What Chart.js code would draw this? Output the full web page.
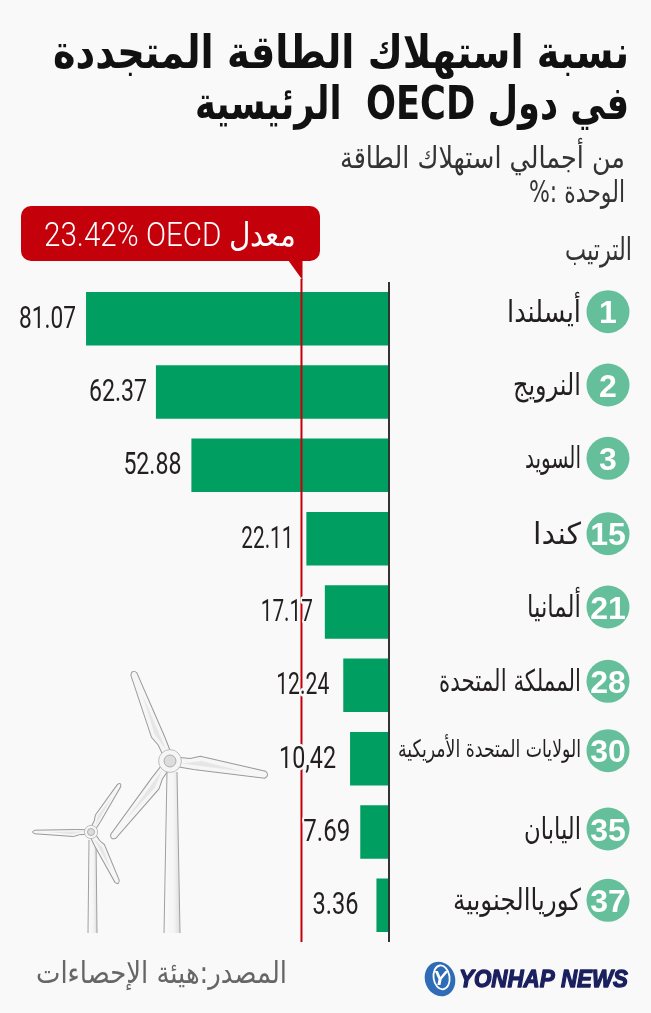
<!DOCTYPE html>
<html lang="ar"><head><meta charset="utf-8">
<style>html,body{margin:0;padding:0;background:#f9f9f9}canvas{display:block}</style>
<script src="https://cdn.jsdelivr.net/npm/chart.js@4"></script></head>
<body><canvas id="c" width="651" height="1013"></canvas>
<script>
const categories=["أيسلندا","النرويج","السويد","كندا","ألمانيا","المملكة المتحدة","الولايات المتحدة الأمريكية","اليابان","كورياالجنوبية"];
const values=[81.07,62.37,52.88,22.11,17.17,12.24,10.42,7.69,3.36];
const valueLabels=["81.07","62.37","52.88","22.11","17.17","12.24","10,42","7.69","3.36"];
const ranks=["1","2","3","15","21","28","30","35","37"];
const oecdAverage=23.42;
const titleLines=["نسبة استهلاك الطاقة المتجددة","في دول OECD  الرئيسية"];
const subtitleLines=["من أجمالي استهلاك الطاقة","الوحدة :%"];
const rankHeader="الترتيب";
const calloutText="23.42% OECD معدل";
const sourceText="المصدر:هيئة الإحصاءات";
const logoText="YONHAP NEWS";

const BG="#f9f9f9",GREEN="#009e60",RED="#c4000b",CIRCLE="#66bf9b",INK="#231f20";
const AR="'DejaVu Sans','Noto Sans',sans-serif";
const labelWidths=[74,68,56,48,54,142,183,57,128];
const rankDy=[-7,-7,-7,-5,-5,-4,-8,-3,-5];
const valueWidths=[57,58,58,52,52,53,57,47,46];
const valueGaps=[10,9,10,13,12,14,14,10,18];

function fit(ctx,text,right,base,font,width,color,dir,halo,bold){
  ctx.save();ctx.font=font;ctx.direction=dir||"rtl";ctx.textAlign=(dir==="ltr")?"left":"right";ctx.textBaseline="alphabetic";
  const w=ctx.measureText(text).width,sx=width/w;
  ctx.translate(dir==="ltr"?right-width:right,base);ctx.scale(sx,1);
  if(halo){ctx.strokeStyle=BG;ctx.lineWidth=5;ctx.lineJoin="round";ctx.strokeText(text,0,0);}
  if(bold){ctx.strokeStyle=color;ctx.lineWidth=bold;ctx.lineJoin="round";ctx.strokeText(text,0,0);}
  ctx.fillStyle=color;ctx.fillText(text,0,0);ctx.restore();
}
function blade(ctx,hx,hy,tx,ty,wd){
  const a=Math.atan2(ty-hy,tx-hx),L=Math.hypot(tx-hx,ty-hy);
  ctx.save();ctx.translate(hx,hy);ctx.rotate(a);
  ctx.beginPath();ctx.moveTo(4,-wd*.5);ctx.lineTo(L*.2,-wd*.6);ctx.lineTo(L*.3,-wd);ctx.lineTo(L-2,-wd*.4);
  ctx.quadraticCurveTo(L+3,0,L-2,wd*.4);ctx.lineTo(L*.25,wd*.55);ctx.lineTo(4,wd*.5);ctx.closePath();
  ctx.fillStyle="#f6f6f6";ctx.fill();ctx.strokeStyle="#9a9a9a";ctx.lineWidth=1;ctx.stroke();
  ctx.beginPath();ctx.moveTo(L*.12,wd*.1);ctx.lineTo(L*.32,-wd*.5);ctx.lineTo(L*.75,0);ctx.closePath();ctx.fillStyle="#e6e6e6";ctx.fill();
  ctx.restore();
}
function tower(ctx,x1,x2,y1,x3,x4,y2){
  const g=ctx.createLinearGradient(x3,0,x4,0);g.addColorStop(0,"#fafafa");g.addColorStop(.6,"#f4f4f4");g.addColorStop(1,"#dedede");
  ctx.beginPath();ctx.moveTo(x1,y1);ctx.lineTo(x2,y1);ctx.lineTo(x4,y2);ctx.lineTo(x3,y2);ctx.closePath();ctx.fillStyle=g;ctx.fill();
  ctx.beginPath();ctx.moveTo(x1,y1);ctx.lineTo(x3,y2);ctx.moveTo(x2,y1);ctx.lineTo(x4,y2);ctx.strokeStyle="#a0a0a0";ctx.lineWidth=1;ctx.stroke();
}
function hub(ctx,x,y,r){
  ctx.beginPath();ctx.arc(x,y,r*1.9,0,Math.PI*2);ctx.fillStyle="#f5f5f5";ctx.fill();ctx.strokeStyle="#b0b0b0";ctx.lineWidth=.8;ctx.stroke();
  ctx.beginPath();ctx.arc(x,y,r,0,Math.PI*2);ctx.fillStyle="#dcdcdc";ctx.fill();ctx.strokeStyle="#a0a0a0";ctx.stroke();
}
function drawLogo(ctx){
  const cx=440,cy=979;
  ctx.save();ctx.translate(cx,cy);ctx.rotate(-.35);
  ctx.beginPath();ctx.ellipse(0,0,15,17.5,0,0,Math.PI*2);ctx.fillStyle="#2f6cb8";ctx.fill();
  ctx.beginPath();ctx.ellipse(2,-1,8,12,.2,0,Math.PI*2);ctx.strokeStyle="#ffffff";ctx.lineWidth=1.8;ctx.stroke();
  ctx.restore();
  ctx.save();ctx.font="italic bold 21px 'Liberation Sans'";ctx.fillStyle="#fff";ctx.textAlign="center";ctx.textBaseline="middle";ctx.fillText("Y",cx,cy);ctx.restore();
  fit(ctx,logoText,628,987,"italic bold 24px 'Liberation Sans'",169,"#1a1f5e","ltr",false,1.3);
}

const overlay={id:"overlay",
  beforeDatasetsDraw(ch){
    const c=ch.ctx;c.save();
    tower(c,89,96,840,88,97,933);
    blade(c,91,832,120,784,5);blade(c,91,832,33,832,4.5);blade(c,91,832,118,883,6);hub(c,91,832,3.5);
    tower(c,167,177,772,164,180,933);
    blade(c,170,761,133,672,8);blade(c,170,761,267,775,9);blade(c,170,761,112,838,8);hub(c,170,761,6);
    c.restore();
  },
  afterDatasetsDraw(ch){
    const c=ch.ctx,x=ch.scales.x,y=ch.scales.y,a=ch.chartArea;
    const zero=x.getPixelForValue(0),avg=x.getPixelForValue(oecdAverage);
    c.save();
    c.fillStyle="#333";c.fillRect(zero-1,a.top,2,a.bottom-a.top);
    c.fillStyle=RED;c.fillRect(avg-1,279,2,a.bottom-279);
    c.beginPath();c.roundRect(21,206,299,55,10);c.fill();
    c.beginPath();c.moveTo(288,260);c.lineTo(avg+1,260);c.lineTo(avg+1,280);c.closePath();c.fill();
    fit(c,calloutText,296,246,"300 33px Roboto,"+AR,252,"#ffffff","ltr");
    fit(c,titleLines[0],629,68,"bold 46px "+AR,576,"#111");
    fit(c,titleLines[1],629,119,"bold 46px "+AR,434,"#111");
    fit(c,subtitleLines[0],625,168,"30px "+AR,285,"#333");
    fit(c,subtitleLines[1],625,202,"30px "+AR,96,"#333");
    fit(c,rankHeader,632,260,"31px "+AR,67,"#333");
    fit(c,sourceText,287,983,"30px "+AR,251,"#666");
    values.forEach((v,i)=>{
      const py=y.getPixelForValue(i),px=x.getPixelForValue(v);
      fit(c,valueLabels[i],px-valueGaps[i],py+9,"400 31px Roboto,'Liberation Sans'",valueWidths[i],INK,"ltr",true);
      const cy=py+rankDy[i];
      c.beginPath();c.arc(608,cy,21.5,0,Math.PI*2);c.fillStyle=CIRCLE;c.fill();
      c.font="bold 32px 'Liberation Sans'";c.fillStyle="#fff";c.textAlign="center";c.textBaseline="alphabetic";c.direction="ltr";
      c.fillText(ranks[i],608,cy+11.5);
      fit(c,categories[i],581,cy+(i===6?6:10),(i===6?"24px ":"30px ")+AR,labelWidths[i],INK);
    });
    drawLogo(c);
    c.restore();
  }
};
Chart.defaults.font.family="'DejaVu Sans'";
new Chart(document.getElementById("c"),{
  type:"bar",
  data:{labels:categories,datasets:[{data:values,backgroundColor:GREEN,borderWidth:0,categoryPercentage:1,barPercentage:.73}]},
  options:{indexAxis:"y",responsive:false,animation:false,
    layout:{padding:{left:15.3,right:262,top:282,bottom:71}},
    plugins:{legend:{display:false},tooltip:{enabled:false},title:{display:false}},
    scales:{
      x:{display:false,reverse:true,min:0,max:100},
      y:{display:false}
    }
  },
  plugins:[{id:"bg",beforeDraw(ch){ch.ctx.save();ch.ctx.fillStyle=BG;ch.ctx.fillRect(0,0,651,1013);ch.ctx.restore();}},overlay]
});
</script></body></html>
